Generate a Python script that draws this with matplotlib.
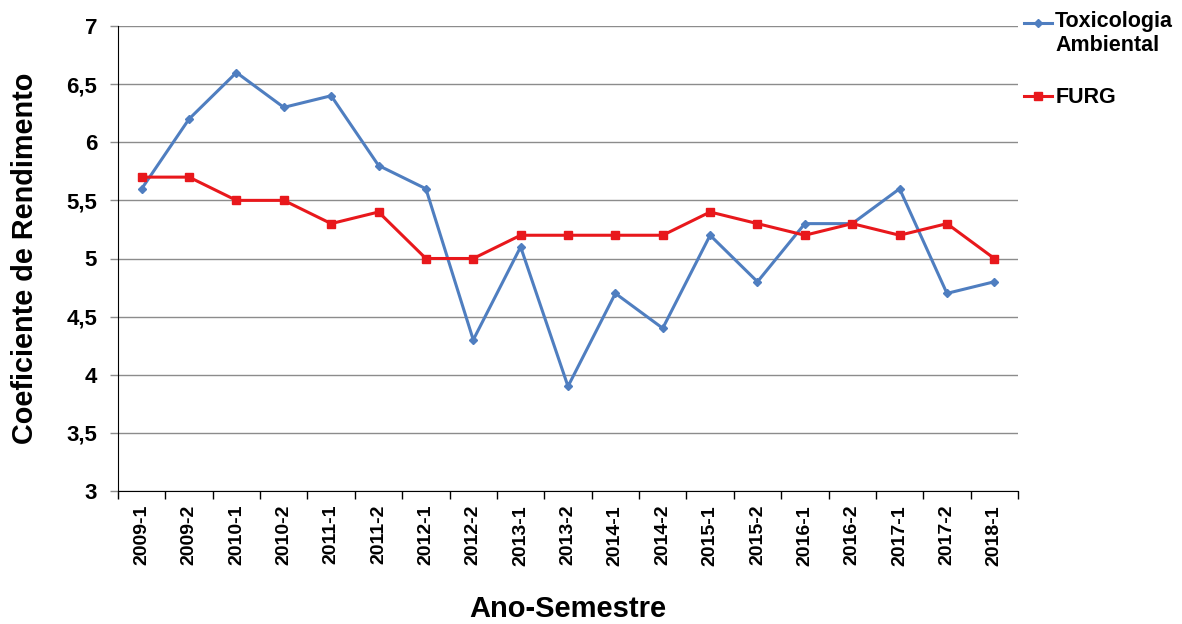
import matplotlib
matplotlib.use("Agg")
import matplotlib.pyplot as plt
import numpy as np

plt.rcParams['font.family'] = ['Liberation Sans', 'DejaVu Sans']

categories = ["2009-1", "2009-2", "2010-1", "2010-2", "2011-1", "2011-2", "2012-1", "2012-2",
              "2013-1", "2013-2", "2014-1", "2014-2", "2015-1", "2015-2", "2016-1", "2016-2",
              "2017-1", "2017-2", "2018-1"]
toxicologia = [5.6, 6.2, 6.6, 6.3, 6.4, 5.8, 5.6, 4.3, 5.1, 3.9, 4.7, 4.4, 5.2, 4.8, 5.3, 5.3, 5.6, 4.7, 4.8]
furg = [5.7, 5.7, 5.5, 5.5, 5.3, 5.4, 5.0, 5.0, 5.2, 5.2, 5.2, 5.2, 5.4, 5.3, 5.2, 5.3, 5.2, 5.3, 5.0]
yticks = [3, 3.5, 4, 4.5, 5, 5.5, 6, 6.5, 7]
ytick_labels = ["3", "3,5", "4", "4,5", "5", "5,5", "6", "6,5", "7"]

fig = plt.figure(figsize=(11.82, 6.24), dpi=100)
ax = fig.add_axes([118/1182, 1-491/624, 900/1182, 465/624])

x = list(range(len(categories)))
ax.plot(x, toxicologia, color='#4F7EC0', lw=2.2, marker='D', ms=4.5, mfc='#4F7EC0', mec='#4F7EC0',
        label='Toxicologia\nAmbiental', zorder=3)
ax.plot(x, furg, color='#E8181C', lw=2.2, marker='s', ms=6, mfc='#E8181C', mec='#E8181C',
        label='FURG', zorder=3)

ax.set_xlim(-0.5, len(categories) - 0.5)
ax.set_ylim(3, 7)
ax.set_yticks(yticks)
ax.set_yticklabels(ytick_labels, fontsize=16, fontweight='bold')
ax.yaxis.grid(True, color='#8C8C8C', lw=1)
ax.set_axisbelow(True)

ax.set_xticks(x)
ax.set_xticklabels(categories, rotation=90, fontsize=14, fontweight='bold')
ax.tick_params(axis='x', length=0, pad=10)
ax.set_xticks([i - 0.5 for i in range(len(categories) + 1)], minor=True)
ax.tick_params(axis='x', which='minor', length=6, width=1, direction='out', color='black')
ax.tick_params(axis='y', length=6, width=1, color='#8C8C8C', pad=9)

for s in ['top', 'right']:
    ax.spines[s].set_visible(False)
ax.spines['left'].set_color('black')
ax.spines['bottom'].set_color('black')

ax.set_ylabel('Coeficiente de Rendimento', fontsize=20.8, fontweight='bold', labelpad=20)
ax.set_xlabel('Ano-Semestre', fontsize=21, fontweight='bold', labelpad=21)

leg = ax.legend(loc='upper left', bbox_to_anchor=(1024/1182, 1-11/624), bbox_transform=fig.transFigure,
                frameon=False, prop={'size': 15.5, 'weight': 'bold'}, handlelength=1.3,
                handletextpad=0.15, labelspacing=1.45, borderpad=0, borderaxespad=0)
h = leg.legend_handles[0]
h.set_ydata(np.asarray(h.get_ydata(), dtype=float) + 8)

fig.savefig('out.png', dpi=100)
